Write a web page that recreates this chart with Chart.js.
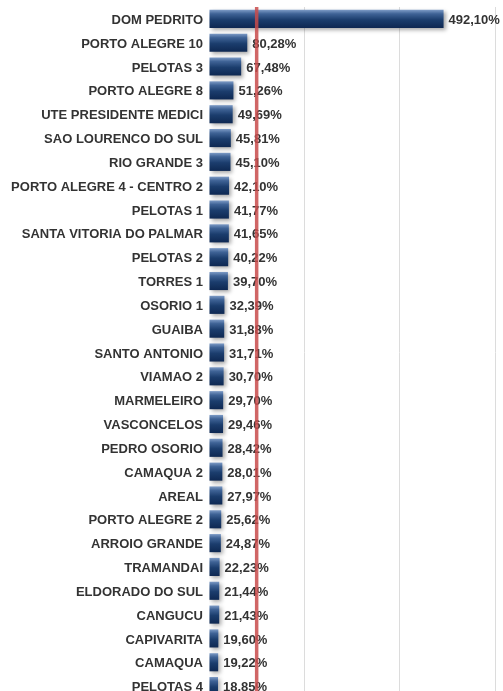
<!DOCTYPE html>
<html>
<head>
<meta charset="utf-8">
<script src="https://cdn.jsdelivr.net/npm/chart.js@4"></script>
<style>
  html, body { margin: 0; padding: 0; background: #fff; overflow: hidden; }
  #wrap { width: 503px; height: 698px; }
</style>
</head>
<body>
<div id="wrap"><canvas id="barChart"></canvas></div>
<script>
// ------------------- DATA -------------------
const places = [
  "DOM PEDRITO", "PORTO ALEGRE 10", "PELOTAS 3", "PORTO ALEGRE 8",
  "UTE PRESIDENTE MEDICI", "SAO LOURENCO DO SUL", "RIO GRANDE 3",
  "PORTO ALEGRE 4 - CENTRO 2", "PELOTAS 1", "SANTA VITORIA DO PALMAR",
  "PELOTAS 2", "TORRES 1", "OSORIO 1", "GUAIBA", "SANTO ANTONIO",
  "VIAMAO 2", "MARMELEIRO", "VASCONCELOS", "PEDRO OSORIO", "CAMAQUA 2",
  "AREAL", "PORTO ALEGRE 2", "ARROIO GRANDE", "TRAMANDAI",
  "ELDORADO DO SUL", "CANGUCU", "CAPIVARITA", "CAMAQUA", "PELOTAS 4"
];
const percents = [
  492.10, 80.28, 67.48, 51.26, 49.69, 45.81, 45.10, 42.10, 41.77, 41.65,
  40.22, 39.70, 32.39, 31.88, 31.71, 30.70, 29.70, 29.46, 28.42, 28.01,
  27.97, 25.62, 24.87, 22.23, 21.44, 21.43, 19.60, 19.22, 18.85
];
const gridTicks = [0, 200, 400, 600];
const limitLine = 100;

const FONT = "'Liberation Sans', Arial, sans-serif";
const TEXT_COLOR = "#333";

// ------------------- HELPERS -------------------
function fmtPercent(v) {
  return v.toFixed(2).replace(".", ",") + "%";
}

// glossy vertical gradient for each bar
function barGradient(context) {
  const chart = context.chart;
  const yScale = chart.scales.y;
  if (!yScale || context.dataIndex === undefined) return "#1b3d6d";
  const yc = yScale.getPixelForValue(context.dataIndex);
  const band = yScale.height / places.length;
  const h = band * 0.76;
  if (!isFinite(yc) || !isFinite(h) || h <= 0) return "#1b3d6d";
  const g = chart.ctx.createLinearGradient(0, yc - h / 2, 0, yc + h / 2);
  g.addColorStop(0, "#7d9bc6");
  g.addColorStop(0.22, "#3f6396");
  g.addColorStop(0.55, "#1b3d6d");
  g.addColorStop(1, "#0e2852");
  return g;
}

// ------------------- PLUGINS -------------------
const shadowPlugin = {
  id: "barShadow",
  beforeDatasetsDraw(chart) {
    const c = chart.ctx;
    c.save();
    c.shadowColor = "rgba(0,0,0,0.35)";
    c.shadowBlur = 4;
    c.shadowOffsetX = 2;
    c.shadowOffsetY = 2;
  },
  afterDatasetsDraw(chart) {
    chart.ctx.restore();
  }
};

const valueLabels = {
  id: "valueLabels",
  afterDatasetsDraw(chart) {
    const c = chart.ctx;
    const meta = chart.getDatasetMeta(0);
    c.save();
    c.font = "bold 13px " + FONT;
    c.fillStyle = TEXT_COLOR;
    c.textAlign = "left";
    c.textBaseline = "middle";
    meta.data.forEach((bar, i) => {
      c.fillText(fmtPercent(percents[i]), bar.x + 5, bar.y + 1.5);
    });
    c.restore();
  }
};

const limitPlugin = {
  id: "limitLine",
  afterDraw(chart) {
    const c = chart.ctx;
    const x = chart.scales.x.getPixelForValue(limitLine);
    const area = chart.chartArea;
    c.save();
    c.strokeStyle = "rgba(200,75,75,0.85)";
    c.lineWidth = 3.5;
    c.beginPath();
    c.moveTo(x, area.top);
    c.lineTo(x, chart.height);
    c.stroke();
    c.restore();
  }
};

// ------------------- CHART -------------------
const ctx = document.getElementById("barChart").getContext("2d");

const barChart = new Chart(ctx, {
  type: "bar",
  data: {
    labels: places,
    datasets: [
      {
        data: percents,
        backgroundColor: barGradient,
        borderWidth: 0,
        barPercentage: 0.76,
        categoryPercentage: 1
      }
    ]
  },
  options: {
    indexAxis: "y",
    responsive: true,
    maintainAspectRatio: false,
    animation: false,
    layout: { padding: { top: 7, right: 8, bottom: 0, left: 0 } },
    scales: {
      x: {
        min: 0,
        max: 600,
        afterBuildTicks: scale => {
          scale.ticks = gridTicks.map(v => ({ value: v }));
        },
        afterFit: scale => { scale.height = 0; },
        ticks: { display: false },
        border: { display: false },
        grid: {
          color: c => (c.tick && c.tick.value === 0 ? "rgba(0,0,0,0)" : "#dcdcdc"),
          lineWidth: 1,
          drawTicks: false
        }
      },
      y: {
        afterFit: scale => {
          scale.width = 209;
          scale.paddingTop = 0;
          scale.paddingBottom = 0;
        },
        border: { display: false },
        grid: { display: false, drawTicks: false },
        ticks: {
          autoSkip: false,
          padding: 6,
          labelOffset: 1.5,
          color: TEXT_COLOR,
          font: { family: FONT, size: 13, weight: "bold" }
        }
      }
    },
    plugins: {
      legend: { display: false },
      tooltip: { enabled: false }
    }
  },
  plugins: [shadowPlugin, valueLabels, limitPlugin]
});
</script>
</body>
</html>
